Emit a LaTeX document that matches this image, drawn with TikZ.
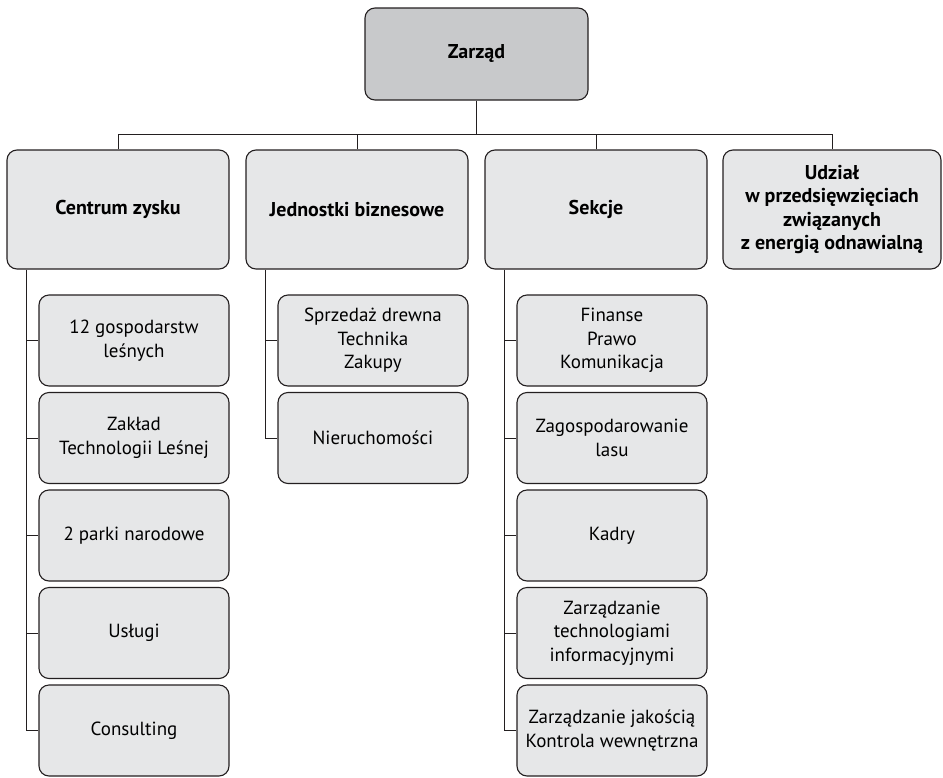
\documentclass[tikz,border=0pt]{standalone}
\usepackage{fontspec}
\setmainfont{PT Sans}
\usepackage{tikz}
\definecolor{boxgray}{HTML}{E6E7E8}
\definecolor{topgray}{HTML}{C8C9CB}
\definecolor{linegray}{HTML}{231F20}

\begin{document}
\begin{tikzpicture}[x=1pt,y=-1pt,
    orgbox/.style={draw=linegray, line width=1.1pt, rounded corners=10pt, fill=boxgray,
      align=center, inner sep=2pt, font=\fontsize{19}{23.5}\selectfont},
    headbox/.style={orgbox, minimum width=222pt, minimum height=119pt, font=\fontsize{20}{23.5}\selectfont\bfseries},
    subbox/.style={orgbox, minimum width=190pt, minimum height=91pt},
    link/.style={draw=linegray, line width=1pt}]
  \useasboundingbox (0,0) rectangle (943,777);
  % top
  \node[orgbox, fill=topgray, minimum width=223pt, minimum height=92pt,
    font=\fontsize{20}{23.5}\selectfont\bfseries] (zarzad) at (476.5,54) {Zarząd};
  % second level
  \node[headbox] (centrum) at (118,209.5) {Centrum zysku};
  \node[headbox] (jednostki) at (357,209.5) {Jednostki biznesowe};
  \node[headbox] (sekcje) at (596,209.5) {Sekcje};
  \node[headbox, minimum width=218pt] (udzial) at (832,209.5)
    {Udział\\w przedsięwzięciach\\związanych\\z energią odnawialną};
  % centrum zysku
  \node[subbox] (c1) at (134,340.5) {12 gospodarstw\\leśnych};
  \node[subbox] (c2) at (134,438) {Zakład\\Technologii Leśnej};
  \node[subbox] (c3) at (134,535.5) {2 parki narodowe};
  \node[subbox] (c4) at (134,633) {Usługi};
  \node[subbox] (c5) at (134,730.5) {Consulting};
  % jednostki biznesowe
  \node[subbox] (j1) at (373,340.5) {Sprzedaż drewna\\Technika\\Zakupy};
  \node[subbox] (j2) at (373,438) {Nieruchomości};
  % sekcje
  \node[subbox] (s1) at (612,340.5) {Finanse\\Prawo\\Komunikacja};
  \node[subbox] (s2) at (612,438) {Zagospodarowanie\\lasu};
  \node[subbox] (s3) at (612,535.5) {Kadry};
  \node[subbox] (s4) at (612,633) {Zarządzanie\\technologiami\\informacyjnymi};
  \node[subbox] (s5) at (612,730.5) {Zarządzanie jakością\\Kontrola wewnętrzna};

  \coordinate (bus) at (0,134);
  \draw[link] (zarzad.south) -- (zarzad.south |- bus);
  \draw[link] (centrum.north) -- (centrum.north |- bus) -- (udzial.north |- bus) -- (udzial.north);
  \foreach \n in {jednostki, sekcje}
    \draw[link] (\n.north) -- (\n.north |- bus);

  \draw[link] ([xshift=-12pt]c1.west |- centrum.south) |- (c5.west);
  \foreach \i in {1,...,4}
    \draw[link] ([xshift=-12pt]c\i.west) -- (c\i.west);
  \draw[link] ([xshift=-12pt]j1.west |- jednostki.south) |- (j2.west);
  \draw[link] ([xshift=-12pt]j1.west) -- (j1.west);
  \draw[link] ([xshift=-12pt]s1.west |- sekcje.south) |- (s5.west);
  \foreach \i in {1,...,4}
    \draw[link] ([xshift=-12pt]s\i.west) -- (s\i.west);
\end{tikzpicture}
\end{document}
